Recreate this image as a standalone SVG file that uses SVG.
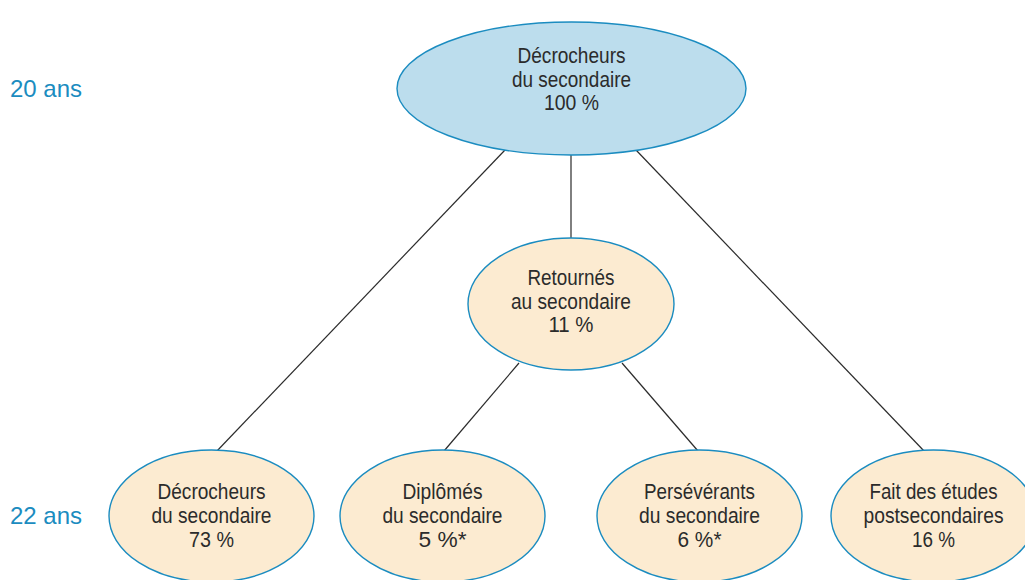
<svg xmlns="http://www.w3.org/2000/svg" width="1025" height="580" viewBox="0 0 1025 580">
<style>
.bg{fill:#ffffff}
.top{fill:#bcdded;stroke:#1b8cc0;stroke-width:1.4}
.node{fill:#fcebd1;stroke:#1b8cc0;stroke-width:1.4}
.lbl{font-family:"Liberation Sans",Arial,sans-serif;font-size:22px;fill:#2b2b2b;text-anchor:middle}
.age{font-family:"Liberation Sans",Arial,sans-serif;font-size:24px;fill:#1b8cc0}
.con line{stroke:#2b2b2b;stroke-width:1.2}
</style>
<rect class="bg" x="0" y="0" width="1025" height="580"/>
<g id="connectors" class="con">
<line x1="505" y1="150" x2="216" y2="452"/>
<line x1="571" y1="155" x2="571" y2="238"/>
<line x1="636" y1="150" x2="925" y2="452"/>
<line x1="519" y1="363" x2="444" y2="451"/>
<line x1="622" y1="363" x2="698" y2="451"/>
</g>
<g id="age20"><text class="age" x="10" y="97">20 ans</text></g>
<g id="age22"><text class="age" x="10" y="524">22 ans</text></g>
<g id="n-top">
<ellipse class="top" cx="571.5" cy="88.5" rx="174.5" ry="66.5"/>
<text class="lbl" x="571.5" y="63" textLength="108" lengthAdjust="spacingAndGlyphs">Décrocheurs</text>
<text class="lbl" x="571.5" y="87" textLength="119" lengthAdjust="spacingAndGlyphs">du secondaire</text>
<text class="lbl" x="571.5" y="110" textLength="55" lengthAdjust="spacingAndGlyphs">100 %</text>
</g>
<g id="n-retournes">
<ellipse class="node" cx="571" cy="304" rx="103" ry="66"/>
<text class="lbl" x="571" y="285" textLength="87" lengthAdjust="spacingAndGlyphs">Retournés</text>
<text class="lbl" x="571" y="309" textLength="120" lengthAdjust="spacingAndGlyphs">au secondaire</text>
<text class="lbl" x="571" y="332" textLength="45" lengthAdjust="spacingAndGlyphs">11 %</text>
</g>
<g id="n-decrocheurs22">
<ellipse class="node" cx="211.5" cy="516" rx="102.5" ry="66"/>
<text class="lbl" x="211.5" y="499" textLength="108" lengthAdjust="spacingAndGlyphs">Décrocheurs</text>
<text class="lbl" x="211.5" y="523" textLength="120" lengthAdjust="spacingAndGlyphs">du secondaire</text>
<text class="lbl" x="211.5" y="547" textLength="45" lengthAdjust="spacingAndGlyphs">73 %</text>
</g>
<g id="n-diplomes">
<ellipse class="node" cx="442.5" cy="516" rx="102.5" ry="66"/>
<text class="lbl" x="442.5" y="499" textLength="80" lengthAdjust="spacingAndGlyphs">Diplômés</text>
<text class="lbl" x="442.5" y="523" textLength="120" lengthAdjust="spacingAndGlyphs">du secondaire</text>
<text class="lbl" x="442.5" y="547" textLength="48" lengthAdjust="spacingAndGlyphs">5 %*</text>
</g>
<g id="n-perseverants">
<ellipse class="node" cx="699.5" cy="516" rx="102.5" ry="66"/>
<text class="lbl" x="699.5" y="499" textLength="111" lengthAdjust="spacingAndGlyphs">Persévérants</text>
<text class="lbl" x="699.5" y="523" textLength="121" lengthAdjust="spacingAndGlyphs">du secondaire</text>
<text class="lbl" x="699.5" y="547" textLength="44" lengthAdjust="spacingAndGlyphs">6 %*</text>
</g>
<g id="n-postsec">
<ellipse class="node" cx="933.5" cy="516" rx="102.5" ry="66"/>
<text class="lbl" x="933.5" y="499" textLength="128" lengthAdjust="spacingAndGlyphs">Fait des études</text>
<text class="lbl" x="933.5" y="523" textLength="140" lengthAdjust="spacingAndGlyphs">postsecondaires</text>
<text class="lbl" x="933.5" y="547" textLength="43" lengthAdjust="spacingAndGlyphs">16 %</text>
</g>
</svg>
